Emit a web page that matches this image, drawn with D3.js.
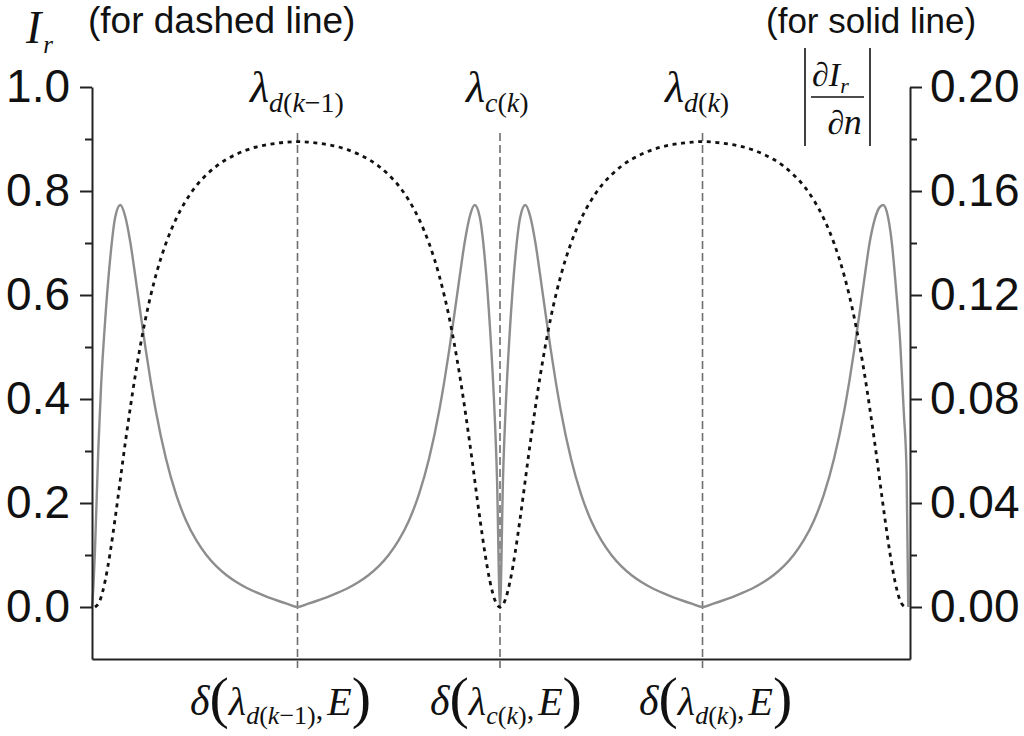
<!DOCTYPE html>
<html>
<head>
<meta charset="utf-8">
<script src="https://cdn.jsdelivr.net/npm/d3@7"></script>
<style>
  html, body { margin: 0; padding: 0; background: #fff; }
  svg { display: block; }
</style>
</head>
<body>
<script>
// ---------------- data ----------------
// x is expressed in units of the round-trip phase (0 .. 2), markers at 0.5, 1, 1.5
const tDash = [0,0.0125,0.025,0.0375,0.05,0.075,0.1,0.125,0.15,0.175,0.2,0.225,0.25,0.275,0.3,0.325,0.35,0.375,0.4,0.425,0.45,0.475,0.5,
  0.525,0.55,0.575,0.6,0.625,0.65,0.675,0.7,0.725,0.75,0.775,0.8,0.825,0.85,0.875,0.9,0.925,0.95,0.9625,0.975,0.9875,1.0,
  1.0125,1.025,1.0375,1.05,1.075,1.1,1.125,1.15,1.175,1.2,1.225,1.25,1.275,1.3,1.325,1.35,1.375,1.4,1.425,1.45,1.475,1.5,
  1.525,1.55,1.575,1.6,1.625,1.65,1.675,1.7,1.725,1.75,1.775,1.8,1.825,1.85,1.875,1.9,1.925,1.95,1.9625,1.975,1.9875,2.0];
const irDash = [0,0.013,0.050,0.105,0.172,0.317,0.448,0.555,0.637,0.699,0.746,0.782,0.810,0.831,0.848,0.861,0.871,0.879,0.885,0.889,0.892,0.894,0.895,
  0.894,0.892,0.889,0.885,0.879,0.871,0.861,0.848,0.831,0.810,0.782,0.746,0.699,0.637,0.555,0.448,0.317,0.172,0.105,0.050,0.013,0,
  0.013,0.050,0.105,0.172,0.317,0.448,0.555,0.637,0.699,0.746,0.782,0.810,0.831,0.848,0.861,0.871,0.879,0.885,0.889,0.892,0.894,0.895,
  0.894,0.892,0.889,0.885,0.879,0.871,0.861,0.848,0.831,0.810,0.782,0.746,0.699,0.637,0.555,0.448,0.317,0.172,0.105,0.050,0.013,0];

const tSolid = [-0.0074,-0.005,0,0.008,0.015,0.025,0.0375,0.05,0.0625,0.075,0.0875,0.1,0.1125,0.125,0.1375,0.15,0.175,0.2,0.225,0.25,0.275,0.3,0.325,0.35,0.375,0.4,0.425,0.45,0.475,0.5,
  0.525,0.55,0.575,0.6,0.625,0.65,0.675,0.7,0.725,0.75,0.775,0.8,0.825,0.85,0.8625,0.875,0.8875,0.9,0.9125,0.925,0.9375,0.95,0.9625,0.975,0.985,0.9925,1.0,
  1.0075,1.015,1.025,1.0375,1.05,1.0625,1.075,1.0875,1.1,1.1125,1.125,1.1375,1.15,1.175,1.2,1.225,1.25,1.275,1.3,1.325,1.35,1.375,1.4,1.425,1.45,1.475,1.5,
  1.525,1.55,1.575,1.6,1.625,1.65,1.675,1.7,1.725,1.75,1.775,1.8,1.825,1.85,1.8625,1.875,1.8875,1.9,1.9125,1.925,1.9375,1.946,1.955,1.9675,1.978,1.988,1.997,2.004,2.008];
const dIrSolid = [0,0.005,0.022,0.060,0.085,0.110,0.134,0.150,0.1546,0.150,0.140,0.1267,0.1128,0.0993,0.0868,0.0756,0.0572,0.0434,0.0332,0.0257,0.0200,0.0156,0.0122,0.0095,0.0073,0.0055,0.0039,0.0025,0.0012,0,
  0.0012,0.0025,0.0039,0.0055,0.0073,0.0095,0.0122,0.0156,0.0200,0.0257,0.0332,0.0434,0.0572,0.0756,0.0868,0.0993,0.1128,0.1267,0.140,0.150,0.1546,0.150,0.134,0.108,0.080,0.050,0,
  0.050,0.080,0.108,0.134,0.150,0.1546,0.150,0.140,0.1267,0.1128,0.0993,0.0868,0.0756,0.0572,0.0434,0.0332,0.0257,0.0200,0.0156,0.0122,0.0095,0.0073,0.0055,0.0039,0.0025,0.0012,0,
  0.0012,0.0025,0.0039,0.0055,0.0073,0.0095,0.0122,0.0156,0.0200,0.0257,0.0332,0.0434,0.0572,0.0756,0.0868,0.0993,0.1128,0.1267,0.140,0.149,0.1538,0.1546,0.152,0.140,0.122,0.102,0.075,0.051,0];

const markerPos = [0.5, 1.0, 1.5];
const leftTicks = [0, 0.2, 0.4, 0.6, 0.8, 1.0];
const leftMinor = [0.1, 0.3, 0.5, 0.7, 0.9];
const rightTicks = [0, 0.04, 0.08, 0.12, 0.16, 0.20];
const rightMinor = [0.02, 0.06, 0.10, 0.14, 0.18];

// ---------------- drawing ----------------
const SERIF = "'Liberation Serif','Times New Roman',serif";
const SANS = "'Liberation Sans',Arial,sans-serif";

const svg = d3.select('body').append('svg').attr('width', 1024).attr('height', 736);
svg.append('rect').attr('width', 1024).attr('height', 736).attr('fill', '#fff');

const x = d3.scaleLinear().domain([-0.0074, 2.0123]).range([92, 910]);
const yL = d3.scaleLinear().domain([-0.1, 1.0]).range([659, 87]);
const yR = d3.scaleLinear().domain([-0.02, 0.20]).range([659, 87]);

// vertical dashed marker lines
svg.append('g').selectAll('line').data(markerPos).join('line')
  .attr('x1', d => x(d)).attr('x2', d => x(d))
  .attr('y1', 133).attr('y2', 668)
  .attr('stroke', '#6e6e6e').attr('stroke-width', 1.6)
  .attr('stroke-dasharray', '8,4');

// solid line (right axis)
const solidData = tSolid.map((t, i) => [t, dIrSolid[i]]);
svg.append('path').datum(solidData)
  .attr('fill', 'none').attr('stroke', '#8d8d8d').attr('stroke-width', 2.4)
  .attr('stroke-linejoin', 'round')
  .attr('d', d3.line().x(d => x(d[0])).y(d => yR(d[1])).curve(d3.curveMonotoneX));

// dashed line (left axis)
const dashData = tDash.map((t, i) => [t, irDash[i]]);
svg.append('path').datum(dashData)
  .attr('fill', 'none').attr('stroke', '#111').attr('stroke-width', 2.8)
  .attr('stroke-dasharray', '4,4.6')
  .attr('d', d3.line().x(d => x(d[0])).y(d => yL(d[1])).curve(d3.curveMonotoneX));

// axes
function styleAxis(g) {
  g.selectAll('path.domain').attr('stroke', '#222').attr('stroke-width', 2);
  g.selectAll('.tick line').attr('stroke', '#222').attr('stroke-width', 2);
  g.selectAll('.tick text').attr('font-family', SANS).attr('font-size', 46).attr('fill', '#111');
}
const gL = svg.append('g').attr('transform', 'translate(92,0)')
  .call(d3.axisLeft(yL).tickValues(leftTicks).tickFormat(d3.format('.1f')).tickSize(12).tickSizeOuter(0).tickPadding(10));
styleAxis(gL);
const gLm = svg.append('g').attr('transform', 'translate(92,0)')
  .call(d3.axisLeft(yL).tickValues(leftMinor).tickFormat('').tickSize(7).tickSizeOuter(0));
gLm.select('path.domain').remove(); styleAxis(gLm);

const gR = svg.append('g').attr('transform', 'translate(910,0)')
  .call(d3.axisRight(yR).tickValues(rightTicks).tickFormat(d3.format('.2f')).tickSize(12).tickSizeOuter(0).tickPadding(8));
styleAxis(gR);
const gRm = svg.append('g').attr('transform', 'translate(910,0)')
  .call(d3.axisRight(yR).tickValues(rightMinor).tickFormat('').tickSize(7).tickSizeOuter(0));
gRm.select('path.domain').remove(); styleAxis(gRm);

const gB = svg.append('g').attr('transform', 'translate(0,659)')
  .call(d3.axisBottom(x).tickValues([]).tickSizeOuter(0));
styleAxis(gB);

// math-like text helper: segs = [text, size, italic, baselineOffset, dx]
function mathText(xPos, base, segs, anchor) {
  const t = svg.append('text').attr('x', xPos).attr('y', base)
    .attr('font-family', SERIF).attr('fill', '#111')
    .attr('text-anchor', anchor || 'start');
  segs.forEach(s => {
    t.append('tspan').text(s[0]).attr('font-size', s[1])
      .attr('font-style', s[2] ? 'italic' : 'normal')
      .attr('y', base + (s[3] || 0))
      .attr('dx', s[4] || 0);
  });
  return t;
}

// axis titles
mathText(26, 43, [['I', 46, true, 0], ['r', 25, true, 10, 2]]);
svg.append('text').attr('x', 88).attr('y', 33).attr('font-family', SANS).attr('font-size', 37)
  .attr('fill', '#111').text('(for dashed line)');
svg.append('text').attr('x', 766).attr('y', 33).attr('font-family', SANS).attr('font-size', 35)
  .attr('fill', '#111').text('(for solid line)');

// |dI_r/dn|
svg.append('line').attr('x1', 805).attr('x2', 805).attr('y1', 48).attr('y2', 146).attr('stroke', '#111').attr('stroke-width', 1.6);
svg.append('line').attr('x1', 870).attr('x2', 870).attr('y1', 48).attr('y2', 146).attr('stroke', '#111').attr('stroke-width', 1.6);
svg.append('line').attr('x1', 811).attr('x2', 864).attr('y1', 97).attr('y2', 97).attr('stroke', '#111').attr('stroke-width', 1.6);
mathText(812, 86, [['∂', 34, true, 0], ['I', 34, true, 0], ['r', 22, true, 7]]);
mathText(836, 134, [['∂', 34, true, 0], ['n', 36, true, 0]], 'middle');

// top marker labels
mathText(250, 102, [['λ', 44, true, 0], ['d', 28, true, 10], ['(', 28, false, 10], ['k', 28, true, 10], ['−1)', 28, false, 10]]);
mathText(466, 102, [['λ', 44, true, 0], ['c', 28, true, 10], ['(', 28, false, 10], ['k', 28, true, 10], [')', 28, false, 10]]);
mathText(665, 102, [['λ', 44, true, 0], ['d', 28, true, 10], ['(', 28, false, 10], ['k', 28, true, 10], [')', 28, false, 10]]);

// bottom marker labels
function deltaLabel(xPos, sub) {
  const segs = [['δ', 42, true, 0], ['(', 58, false, 2], ['λ', 40, true, 0]];
  sub.forEach(s => segs.push([s[0], 26, s[1], 9]));
  segs.push([',', 30, false, 4]);
  segs.push(['E', 40, true, 0, 4]);
  segs.push([')', 58, false, 2]);
  mathText(xPos, 715, segs);
}
deltaLabel(190, [['d', true], ['(', false], ['k', true], ['−1)', false]]);
deltaLabel(430, [['c', true], ['(', false], ['k', true], [')', false]]);
deltaLabel(639, [['d', true], ['(', false], ['k', true], [')', false]]);
</script>
</body>
</html>
